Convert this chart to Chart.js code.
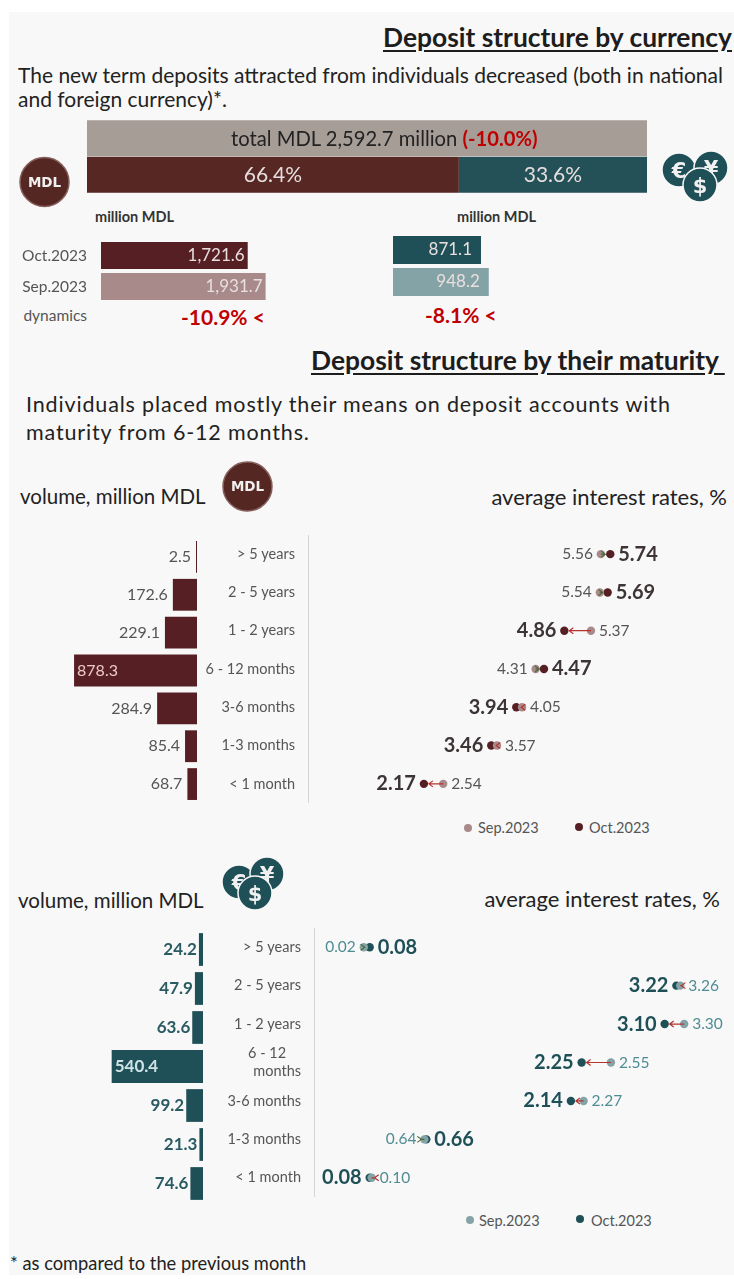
<!DOCTYPE html>
<html>
<head>
<meta charset="utf-8">
<title>Deposit structure</title>
<script src="https://cdn.jsdelivr.net/npm/chart.js@4/dist/chart.umd.js"></script>
<style>
    html, body { margin: 0; padding: 0; background: #fff; }
    body { position: relative; width: 734px; height: 1279px; overflow: hidden; font-family: Lato, sans-serif; color: #222; }
    #panel { position: absolute; left: 9px; top: 12px; width: 725px; height: 1263px; background: #f8f8f8; }
    canvas { position: absolute; }
    svg { position: absolute; left: 0; top: 0; }
    .t { position: absolute; white-space: nowrap; line-height: 1; }
    .title { font-size: 26.4px; font-weight: 700; text-decoration: underline; text-underline-offset: 3px; color: #1d1d1d; }
    .lead { font-size: 21px; color: #222; }
    .lead2 { font-size: 21.5px; color: #222; letter-spacing: 0.85px; }
    .head { font-size: 20.5px; color: #222; }
    .head2 { font-size: 22px; color: #222; }
    .unit { font-size: 14.5px; font-weight: 700; color: #333; }
    .side { font-size: 15.5px; color: #555; }
    .red { color: #c00000; font-weight: 700; }
    .dyn { font-size: 21px; font-weight: 700; color: #c00000; }
    .leg { font-size: 14.5px; color: #555; }
    .dot { position: absolute; width: 8px; height: 8px; border-radius: 50%; }
</style>
</head>
<body>
<div id="panel"></div>

<div class="t title" style="right:2px;top:24px">Deposit structure by currency</div>
<div class="t lead" style="left:18px;top:64px">The new term deposits attracted from individuals decreased (both in national</div>
<div class="t lead" style="left:18px;top:88px">and foreign currency)*.</div>

<canvas id="share-chart" width="560" height="73" style="left:87px;top:120px"></canvas>
<div class="t" style="left:231px;top:128px;font-size:20.2px">total MDL 2,592.7 million <span class="red">(-10.0%)</span></div>

<div class="t unit" style="left:95px;top:210px">million MDL</div>
<div class="t unit" style="left:457px;top:210px">million MDL</div>
<canvas id="mdl-amounts" width="291" height="62" style="left:10px;top:239.5px"></canvas>
<canvas id="fx-amounts" width="200" height="64" style="left:393px;top:234px"></canvas>
<div class="t side" style="right:647px;top:308px">dynamics</div>
<div class="t dyn" style="left:181px;top:306px">-10.9% &lt;</div>
<div class="t dyn" style="left:425px;top:304px">-8.1% &lt;</div>

<div class="t title" style="left:311px;top:347px">Deposit structure by their maturity&nbsp;</div>
<div class="t lead2" style="left:26px;top:394px">Individuals placed mostly their means on deposit accounts with</div>
<div class="t lead2" style="left:26px;top:422px">maturity from 6-12 months.</div>

<div class="t head" style="left:20px;top:486px">volume, million MDL</div>
<div class="t head2" style="right:7px;top:486px">average interest rates, %</div>
<canvas id="mdl-volume" width="187" height="265" style="left:10px;top:538px"></canvas>
<canvas id="mdl-rates" width="534" height="268" style="left:200px;top:535px"></canvas>
<div class="dot" style="left:464px;top:824px;background:#a88a8a"></div>
<div class="t leg" style="left:478px;top:821px">Sep.2023</div>
<div class="dot" style="left:575px;top:823px;background:#561f24"></div>
<div class="t leg" style="left:589px;top:821px">Oct.2023</div>

<div class="t head" style="left:18px;top:890px">volume, million MDL</div>
<div class="t head2" style="right:14px;top:888px">average interest rates, %</div>
<canvas id="fx-volume" width="193" height="273" style="left:10px;top:930px"></canvas>
<canvas id="fx-rates" width="528" height="269" style="left:206px;top:928px"></canvas>
<div class="dot" style="left:466px;top:1216px;background:#84a3a6"></div>
<div class="t leg" style="left:479px;top:1214px">Sep.2023</div>
<div class="dot" style="left:576px;top:1215px;background:#1f5058"></div>
<div class="t leg" style="left:591px;top:1214px">Oct.2023</div>

<div class="t" style="left:10px;top:1254px;font-size:18.3px;color:#222">* as compared to the previous month</div>

<svg id="icons" width="734" height="1279"></svg>

<script>
// Share of each currency, first row is the grey total bar
const shareRows = ['total', 'share'];
const shareTotal = [100, null];
const shareMdl = [null, 66.4];
const shareFx = [null, 33.6];

const periods = ['Oct.2023', 'Sep.2023'];
const amountsMdl = [1721.6, 1931.7];
const amountsFx = [871.1, 948.2];

const maturitiesMdl = ['> 5 years', '2 - 5 years', '1 - 2 years', '6 - 12 months', '3-6 months', '1-3 months', '< 1 month'];
const volumeMdl = [2.5, 172.6, 229.1, 878.3, 284.9, 85.4, 68.7];
const ratesMdlSep = [5.56, 5.54, 5.37, 4.31, 4.05, 3.57, 2.54];
const ratesMdlOct = [5.74, 5.69, 4.86, 4.47, 3.94, 3.46, 2.17];

const maturitiesFx = ['> 5 years', '2 - 5 years', '1 - 2 years', ['6 - 12    ', 'months'], '3-6 months', '1-3 months', '< 1 month'];
const volumeFx = [24.2, 47.9, 63.6, 540.4, 99.2, 21.3, 74.6];
const ratesFxSep = [0.02, 3.26, 3.30, 2.55, 2.27, 0.64, 0.10];
const ratesFxOct = [0.08, 3.22, 3.10, 2.25, 2.14, 0.66, 0.08];

const MAROON = '#561f24';
const MAROON_LIGHT = '#a88a8a';
const TEAL = '#1f5058';
const TEAL_LIGHT = '#84a3a6';
const FONT = 'Lato, sans-serif';

Chart.defaults.font.family = FONT;
Chart.defaults.animation = false;
Chart.defaults.responsive = false;
Chart.defaults.plugins.legend.display = false;
Chart.defaults.plugins.tooltip.enabled = false;

function formatAmount(value) {
    return value.toLocaleString('en-US', { minimumFractionDigits: 1 });
}

// Writes the value next to each bar of the first dataset
const barLabels = {
    id: 'barLabels',
    afterDatasetsDraw(chart, args, opts) {
        const ctx = chart.ctx;
        const data = chart.data.datasets[0].data;
        ctx.save();
        ctx.font = `${opts.weight || 400} ${opts.size}px ${FONT}`;
        ctx.textBaseline = 'middle';
        chart.getDatasetMeta(0).data.forEach((bar, i) => {
            const text = formatAmount(data[i]);
            if (opts.mode !== 'end' && data[i] > opts.insideFrom) {
                ctx.textAlign = 'left';
                ctx.fillStyle = opts.insideColor;
                ctx.fillText(text, bar.x + 3, bar.y);
            } else {
                ctx.textAlign = 'right';
                ctx.fillStyle = opts.color;
                ctx.fillText(text, bar.x - opts.gap, bar.y);
            }
        });
        ctx.restore();
    }
};

// Arrow from the September point to the October point, and the two rate labels
const rateLabels = {
    id: 'rateLabels',
    afterDatasetsDraw(chart, args, opts) {
        const ctx = chart.ctx;
        const sep = chart.data.datasets[0].data;
        const oct = chart.data.datasets[1].data;
        const sepPoints = chart.getDatasetMeta(0).data;
        const octPoints = chart.getDatasetMeta(1).data;
        ctx.save();
        ctx.textBaseline = 'middle';
        sep.forEach((value, i) => {
            const from = sepPoints[i];
            const to = octPoints[i];
            const dir = to.x < from.x ? -1 : 1;
            const tipX = to.x - dir * 5;

            ctx.strokeStyle = dir < 0 ? '#b5332e' : '#4a6b3a';
            ctx.lineWidth = 1.2;
            ctx.beginPath();
            ctx.moveTo(from.x, from.y);
            ctx.lineTo(tipX, to.y);
            ctx.moveTo(tipX - dir * 4, to.y - 3);
            ctx.lineTo(tipX, to.y);
            ctx.lineTo(tipX - dir * 4, to.y + 3);
            ctx.stroke();

            // smaller rate goes on the left
            const gap = 8;
            const octLeft = oct[i] < value;
            ctx.font = `700 ${opts.bigSize}px ${FONT}`;
            ctx.fillStyle = opts.octColor;
            ctx.textAlign = octLeft ? 'right' : 'left';
            ctx.fillText(oct[i].toFixed(2), to.x + (octLeft ? -gap : gap), to.y);

            ctx.font = `400 ${opts.smallSize}px ${FONT}`;
            ctx.fillStyle = opts.sepColor;
            ctx.textAlign = octLeft ? 'left' : 'right';
            ctx.fillText(value.toFixed(2), from.x + (octLeft ? gap : -gap), from.y);
        });
        ctx.restore();
    }
};

function amountChart(id, values, colors, xMax, gap, axisWidth) {
    new Chart(document.getElementById(id), {
        type: 'bar',
        data: {
            labels: periods,
            datasets: [{ data: values, backgroundColor: colors, barPercentage: 0.87, categoryPercentage: 1 }]
        },
        options: {
            indexAxis: 'y',
            layout: { padding: 0, autoPadding: false },
            scales: {
                x: { display: false, min: 0, max: xMax },
                y: {
                    display: axisWidth > 0,
                    grid: { display: false, drawTicks: false },
                    border: { display: false },
                    ticks: { padding: 14, color: '#555', font: { size: 15.5 }, autoSkip: false },
                    afterFit(scale) {
                        scale.width = axisWidth;
                        scale.paddingTop = 0;
                        scale.paddingBottom = 0;
                    }
                }
            },
            plugins: { barLabels: { mode: 'end', size: 17, color: '#e9dfdf', gap: gap } }
        },
        plugins: [barLabels]
    });
}

function volumeChart(id, labels, values, color, xMax, percent, size, weight, labelColor, insideColor, gap) {
    new Chart(document.getElementById(id), {
        type: 'bar',
        data: {
            labels: labels,
            datasets: [{ data: values, backgroundColor: color, barPercentage: percent, categoryPercentage: 1, minBarLength: 1 }]
        },
        options: {
            indexAxis: 'y',
            layout: { padding: 0, autoPadding: false },
            scales: {
                x: { display: false, reverse: true, min: 0, max: xMax },
                y: { display: false }
            },
            plugins: {
                barLabels: { size: size, weight: weight, color: labelColor, insideColor: insideColor, insideFrom: 500, gap: gap }
            }
        },
        plugins: [barLabels]
    });
}

function rateChart(id, labels, sep, oct, sepColor, octColor, xMin, xMax, sepText, octText) {
    new Chart(document.getElementById(id), {
        type: 'line',
        data: {
            labels: labels,
            datasets: [
                { label: 'Sep.2023', data: sep, showLine: false, pointRadius: 4.2, pointBackgroundColor: sepColor, pointBorderWidth: 0 },
                { label: 'Oct.2023', data: oct, showLine: false, pointRadius: 4.2, pointBackgroundColor: octColor, pointBorderWidth: 0 }
            ]
        },
        options: {
            indexAxis: 'y',
            layout: { padding: 0, autoPadding: false },
            scales: {
                x: { display: false, min: xMin, max: xMax },
                y: {
                    offset: true,
                    grid: { display: false, drawTicks: false },
                    border: { display: true, color: '#d4d4d4', width: 1 },
                    ticks: { padding: 13, color: '#555', autoSkip: false, font: { size: 14.5, lineHeight: 1.25 } },
                    afterFit(scale) {
                        scale.width = 108;
                        scale.paddingTop = 0;
                        scale.paddingBottom = 0;
                    }
                }
            },
            plugins: { rateLabels: { bigSize: 20, smallSize: 15.5, sepColor: sepText, octColor: octText } }
        },
        plugins: [rateLabels]
    });
}

// Currency split, the two percentages are written on the bars
const shareValues = {
    id: 'shareValues',
    afterDatasetsDraw(chart) {
        const ctx = chart.ctx;
        ctx.save();
        ctx.font = `400 21px ${FONT}`;
        ctx.fillStyle = '#e6dede';
        ctx.textAlign = 'center';
        ctx.textBaseline = 'middle';
        [1, 2].forEach(i => {
            const bar = chart.getDatasetMeta(i).data[1];
            const value = chart.data.datasets[i].data[1];
            ctx.fillText(value.toFixed(1) + '%', (bar.base + bar.x) / 2, bar.y);
        });
        ctx.restore();
    }
};

new Chart(document.getElementById('share-chart'), {
    type: 'bar',
    data: {
        labels: shareRows,
        datasets: [
            { data: shareTotal, backgroundColor: '#a79d97', stack: 'a', barPercentage: 1, categoryPercentage: 0.98 },
            { data: shareMdl, backgroundColor: '#562723', stack: 'a', barPercentage: 1, categoryPercentage: 0.98 },
            { data: shareFx, backgroundColor: '#235157', stack: 'a', barPercentage: 1, categoryPercentage: 0.98 }
        ]
    },
    options: {
        indexAxis: 'y',
        layout: { padding: 0, autoPadding: false },
        scales: {
            x: { display: false, stacked: true, min: 0, max: 100 },
            y: { display: false, stacked: true }
        }
    },
    plugins: [shareValues]
});

amountChart('mdl-amounts', amountsMdl, [MAROON, MAROON_LIGHT], 2347, 3, 91);
amountChart('fx-amounts', amountsFx, [TEAL, TEAL_LIGHT], 1980, 9, 0);

volumeChart('mdl-volume', maturitiesMdl, volumeMdl, MAROON, 1336, 0.84, 16, 400, '#555', '#eec9c9', 5);
rateChart('mdl-rates', maturitiesMdl, ratesMdlSep, ratesMdlOct, MAROON_LIGHT, MAROON, -0.05, 8.11, '#555', '#3d3535');

volumeChart('fx-volume', maturitiesFx, volumeFx, TEAL, 1142, 0.84, 17, 700, '#2a5a62', '#cfe3e5', 2);
rateChart('fx-rates', maturitiesFx, ratesFxSep, ratesFxOct, TEAL_LIGHT, TEAL, -0.49, 3.81, '#4f8d93', '#1f5058');

// Coin icons
const SVG_NS = 'http://www.w3.org/2000/svg';
const icons = document.getElementById('icons');

function addCoin(cx, cy, r, fill, stroke, label, size) {
    const circle = document.createElementNS(SVG_NS, 'circle');
    circle.setAttribute('cx', cx);
    circle.setAttribute('cy', cy);
    circle.setAttribute('r', r);
    circle.setAttribute('fill', fill);
    circle.setAttribute('stroke', stroke);
    circle.setAttribute('stroke-width', 1.5);
    icons.appendChild(circle);

    const text = document.createElementNS(SVG_NS, 'text');
    text.setAttribute('x', cx);
    text.setAttribute('y', cy + size * 0.36);
    text.setAttribute('text-anchor', 'middle');
    text.setAttribute('fill', '#f0f0f0');
    text.setAttribute('font-family', 'DejaVu Sans');
    text.setAttribute('font-weight', '700');
    text.setAttribute('font-size', size);
    text.textContent = label;
    icons.appendChild(text);
}

function addFxCoins(ex, ey, yx, yy, dx, dy) {
    addCoin(ex, ey, 17, TEAL, '#f8f8f8', '€', 21);
    addCoin(yx, yy, 17, TEAL, '#f8f8f8', '¥', 21);
    addCoin(dx, dy, 17, TEAL, '#f8f8f8', '$', 21);
}

addCoin(44.5, 182, 24.5, '#552722', '#86605c', 'MDL', 13.5);
addCoin(247.5, 486.5, 24.5, '#552722', '#86605c', 'MDL', 13.5);
addFxCoins(679, 170, 711, 168, 700, 185);
addFxCoins(239, 882, 267, 874, 255, 893);
</script>
</body>
</html>
